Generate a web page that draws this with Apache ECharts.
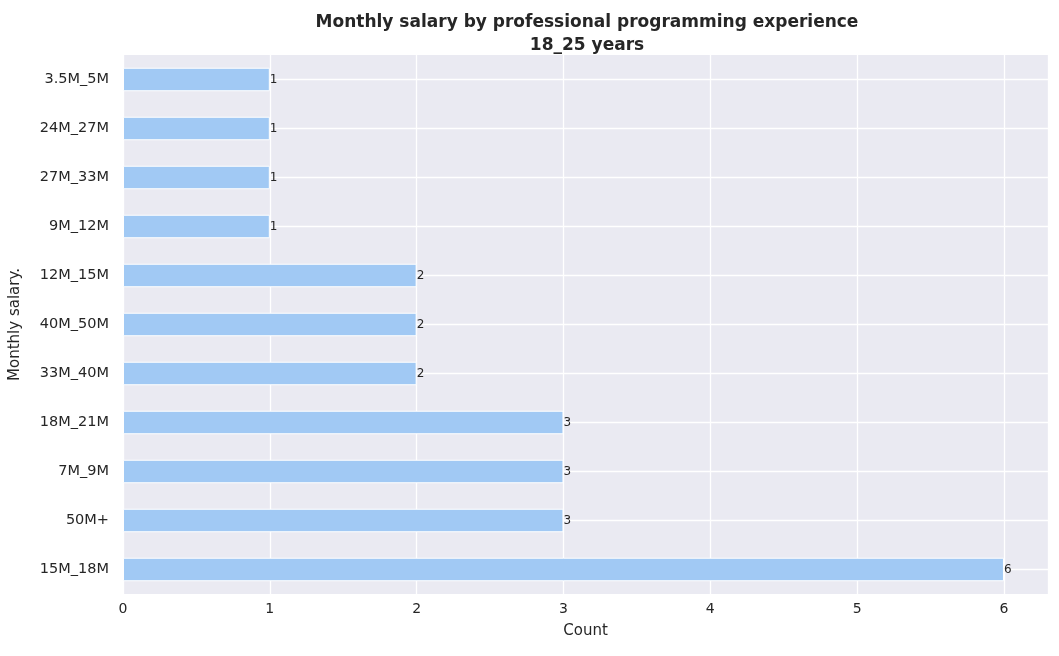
<!DOCTYPE html>
<html lang="en">
<head>
<meta charset="utf-8">
<script src="https://cdn.jsdelivr.net/npm/echarts@6/dist/echarts.min.js"></script>
<style>
    html, body { margin: 0; padding: 0; background: #fff; }
    #chart { width: 1059px; height: 656px; }
</style>
</head>
<body>
<div id="chart"></div>
<script>
    // top to bottom as shown in the picture
    var categories = ['3.5M_5M', '24M_27M', '27M_33M', '9M_12M', '12M_15M', '40M_50M',
                      '33M_40M', '18M_21M', '7M_9M', '50M+', '15M_18M'];
    var counts = [1, 1, 1, 1, 2, 2, 2, 3, 3, 3, 6];

    // helper axis: 2n+1 ticks, odd ones sit at the bar centres (for gridlines)
    var gridTicks = [];
    for (var i = 0; i <= categories.length * 2; i++) gridTicks.push('');

    var myChart = echarts.init(document.getElementById('chart'));
    var font = 'DejaVu Sans';

    var option = {
        textStyle: { fontFamily: font },
        title: {
            text: 'Monthly salary by professional programming experience\n18_25 years',
            left: 582, top: 6, textAlign: 'center',
            textStyle: { fontFamily: font, fontSize: 17, fontWeight: 'bold', color: '#262626', lineHeight: 23 }
        },
        grid: { left: 120, right: 11, top: 55, bottom: 62, backgroundColor: '#eaeaf2', show: true, borderWidth: 0 },
        xAxis: {
            type: 'value', min: 0, max: 6.3, interval: 1,
            name: 'Count', nameLocation: 'middle', nameGap: 30,
            nameTextStyle: { fontSize: 15, color: '#262626' },
            axisLabel: { fontSize: 14, color: '#262626', showMaxLabel: false },
            axisLine: { show: false }, axisTick: { show: false },
            splitLine: { lineStyle: { color: '#fff', width: 1.3 } }
        },
        yAxis: [{
            type: 'category', inverse: true, data: categories,
            name: 'Monthly salary.', nameLocation: 'middle', nameGap: 100,
            nameTextStyle: { fontSize: 15, color: '#262626' },
            axisLabel: { fontSize: 14.5, color: '#262626', margin: 14 },
            axisLine: { show: false }, axisTick: { show: false },
            splitLine: { show: false }
        }, {
            type: 'category', boundaryGap: false, data: gridTicks, position: 'left',
            axisLabel: { show: false }, axisLine: { show: false }, axisTick: { show: false },
            splitLine: {
                show: true, lineStyle: { color: '#fff', width: 1.3 },
                interval: function (index) { return index % 2 === 1; }
            }
        }],
        series: [{
            type: 'bar', z: 3, data: counts, barWidth: '48%',
            itemStyle: { color: '#a1c9f4', borderColor: '#fff', borderWidth: 1 },
            label: { show: true, position: 'right', distance: 0, fontSize: 12, color: '#262626' }
        }]
    };
    myChart.setOption(option);
</script>
</body>
</html>
